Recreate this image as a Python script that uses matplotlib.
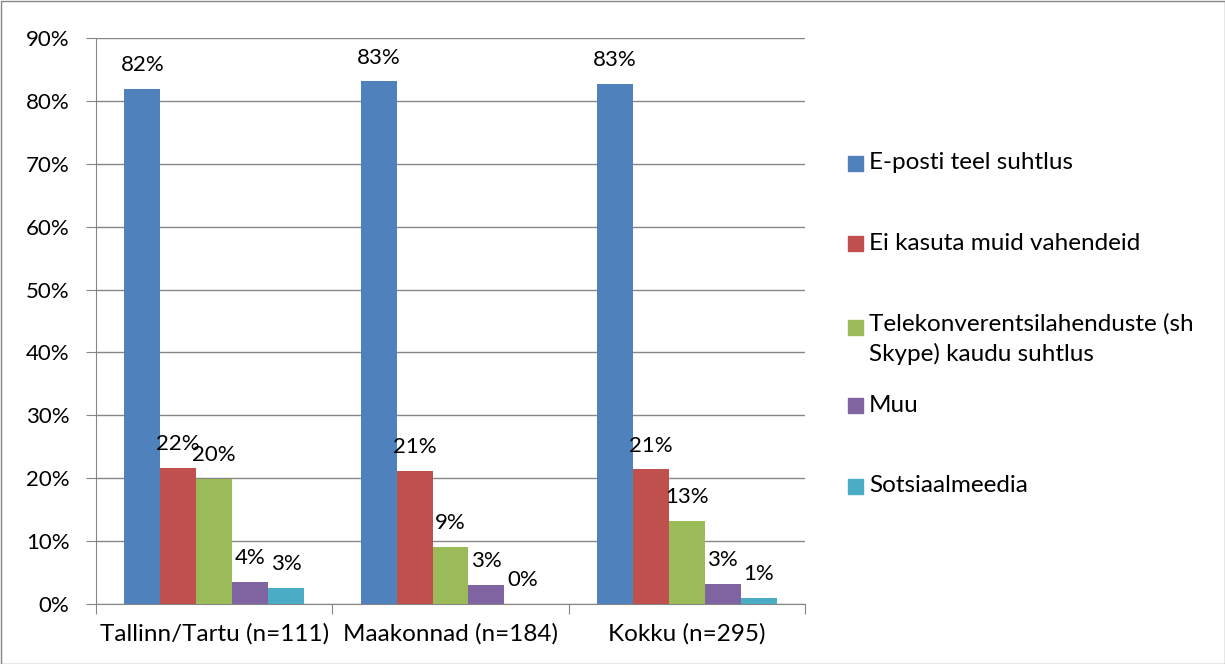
import matplotlib
matplotlib.use("Agg")

import matplotlib.pyplot as plt
from matplotlib.patches import Rectangle
import numpy as np

plt.rcParams["font.family"] = ["Lato", "DejaVu Sans"]

# Andmed
categories = ["Tallinn/Tartu (n=111)", "Maakonnad (n=184)", "Kokku (n=295)"]
series_names = [
    "E-posti teel suhtlus",
    "Ei kasuta muid vahendeid",
    "Telekonverentsilahenduste (sh\nSkype) kaudu suhtlus",
    "Muu",
    "Sotsiaalmeedia",
]
e_post = [81.9, 83.1, 82.7]
ei_kasuta = [21.7, 21.2, 21.4]
telekonverents = [19.9, 9.1, 13.2]
muu = [3.5, 3.1, 3.2]
sotsiaalmeedia = [2.6, 0.0, 0.9]
series_values = [e_post, ei_kasuta, telekonverents, muu, sotsiaalmeedia]
colors = ["#4F81BD", "#C0504D", "#9BBB59", "#8064A2", "#4BACC6"]
y_ticks = np.arange(0, 91, 10)

FS_NUM = 16      # numbrid (teljed, sildid)
FS_TXT = 17.5    # tekst (kategooriad, legend)
GRID = "#868686"
W, H = 1225, 664

fig = plt.figure(figsize=(W / 100, H / 100), dpi=100)
ax = fig.add_axes([96 / W, 60 / H, (805 - 96) / W, (604 - 38) / H])

x = np.arange(len(categories))
n = len(series_values)
bw = 0.152
for i, (vals, col) in enumerate(zip(series_values, colors)):
    pos = x + (i - (n - 1) / 2) * bw
    bars = ax.bar(pos, vals, width=bw, color=col, zorder=3)
    for b, v in zip(bars, vals):
        ax.annotate(f"{v:.0f}%", (b.get_x() + b.get_width() / 2, v),
                    xytext=(0, 10), textcoords="offset points",
                    ha="center", va="bottom", fontsize=FS_NUM, color="black")

ax.set_ylim(0, 90)
ax.set_xlim(-0.5, len(categories) - 0.5)
ax.set_yticks(y_ticks)
ax.set_yticklabels([f"{t}%" for t in y_ticks], fontsize=FS_NUM)
ax.yaxis.grid(True, color=GRID, linewidth=1.0, zorder=0)
ax.set_axisbelow(True)

# Kategooriate piirid alumisel teljel
ax.set_xticks(np.arange(-0.5, len(categories)), minor=False)
ax.set_xticklabels([])
ax.set_xticks(x, minor=True)
ax.set_xticklabels(categories, minor=True, fontsize=FS_TXT)
ax.tick_params(axis="x", which="major", direction="out", length=7, color=GRID)
ax.tick_params(axis="x", which="minor", length=0, pad=14)
ax.tick_params(axis="y", direction="out", length=7, color=GRID, pad=12)

for s in ["top", "right"]:
    ax.spines[s].set_visible(False)
for s in ["left", "bottom"]:
    ax.spines[s].set_color(GRID)

# Legend käsitsi (Excel stiilis)
legend_y = [163, 243, 327, 405, 486]
for name, col, ly in zip(series_names, colors, legend_y):
    yf = 1 - ly / H
    fig.patches.append(Rectangle((848 / W, yf - 7.5 / H), 15 / W, 15 / H,
                                 transform=fig.transFigure, color=col))
    if "\n" in name:
        fig.text(869 / W, yf + 14 / H, name, fontsize=FS_TXT, va="top", ha="left",
                 linespacing=1.45)
    else:
        fig.text(869 / W, yf, name, fontsize=FS_TXT, va="center", ha="left")

# Diagrammi raam
fig.patches.append(Rectangle((0.5 / W, 0.5 / H), 1 - 1 / W, 1 - 1 / H,
                             transform=fig.transFigure, fill=False,
                             edgecolor=GRID, linewidth=1.0))

fig.savefig("out.png", dpi=100)
